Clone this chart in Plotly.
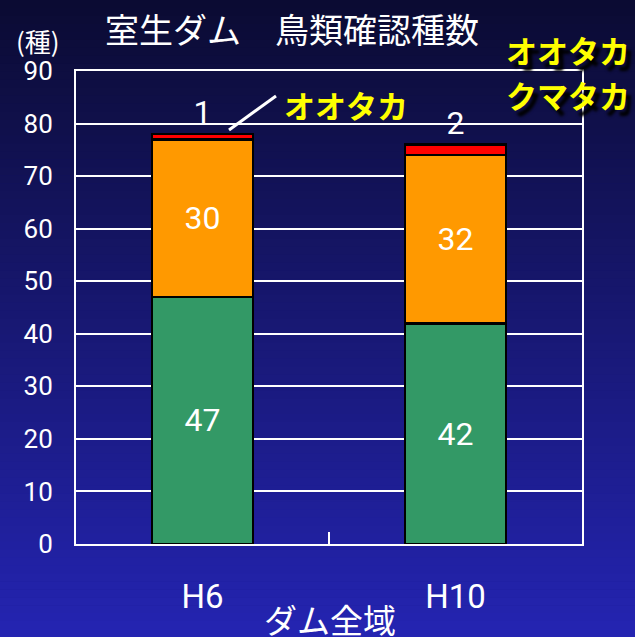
import plotly.graph_objects as go

categories = ["H6", "H10"]
green_vals = [47, 42]
orange_vals = [30, 32]
red_vals = [1, 2]
y_ticks = [0, 10, 20, 30, 40, 50, 60, 70, 80, 90]

W, H = 635, 637
L, R, T, B = 76, 53, 71, 93
pw, ph = W - L - R, H - T - B

NUM_FONT = "Roboto, Liberation Sans, sans-serif"
JP_FONT = "Noto Sans CJK JP, sans-serif"

def px2x(px):
    return (px - L) / pw

def px2y(py):
    return (H - B - py) / ph

fig = go.Figure()

fig.add_trace(go.Bar(
    x=categories, y=green_vals, name="green",
    marker=dict(color="#339966", line=dict(color="black", width=2.5)),
    text=[str(v) for v in green_vals], textposition="inside",
    insidetextanchor="middle",
    textfont=dict(color="white", size=32, family=NUM_FONT),
))
fig.add_trace(go.Bar(
    x=categories, y=orange_vals, name="orange",
    marker=dict(color="#FF9900", line=dict(color="black", width=2.5)),
    text=[str(v) for v in orange_vals], textposition="inside",
    insidetextanchor="middle",
    textfont=dict(color="white", size=32, family=NUM_FONT),
))
fig.add_trace(go.Bar(
    x=categories, y=red_vals, name="red",
    marker=dict(color="#FF0000", line=dict(color="black", width=2.5)),
    text=[str(v) for v in red_vals], textposition="outside",
    textfont=dict(color="white", size=32, family=NUM_FONT),
    cliponaxis=False,
))

# gradient background
shapes = []
n = 80
c0 = (11, 11, 50)
c1 = (36, 36, 178)
for i in range(n):
    y0 = i * H / n
    y1 = (i + 1) * H / n + 0.6
    t = (i + 0.5) / n
    c = tuple(int(round(a + (b - a) * t)) for a, b in zip(c0, c1))
    shapes.append(dict(
        type="rect", xref="paper", yref="paper", layer="below",
        x0=px2x(0), x1=px2x(W), y0=px2y(y1), y1=px2y(y0),
        fillcolor="rgb(%d,%d,%d)" % c, line=dict(width=0),
    ))
# leader line for annotation
shapes.append(dict(
    type="line", xref="paper", yref="paper",
    x0=px2x(229), y0=px2y(130), x1=px2x(276), y1=px2y(96),
    line=dict(color="white", width=3),
))

annotations = [
    dict(text="室生ダム　鳥類確認種数", x=px2x(292), y=px2y(28),
         font=dict(color="white", size=34, family=JP_FONT)),
    dict(text="(種)", x=px2x(38), y=px2y(41),
         font=dict(color="white", size=26, family=JP_FONT)),
    dict(text="<b>オオタカ</b>", x=px2x(346), y=px2y(104),
         font=dict(color="#FFFF00", size=31, family=JP_FONT)),
    dict(text="<b>オオタカ</b>", x=px2x(568), y=px2y(50),
         font=dict(color="#FFFF00", size=31, family=JP_FONT,
                   shadow="5px 6px 3px #000")),
    dict(text="<b>クマタカ</b>", x=px2x(568), y=px2y(94),
         font=dict(color="#FFFF00", size=31, family=JP_FONT,
                   shadow="5px 6px 3px #000")),
    dict(text="ダム全域", x=px2x(330), y=px2y(619),
         font=dict(color="white", size=33, family=JP_FONT)),
]
for a in annotations:
    a.update(xref="paper", yref="paper", showarrow=False,
             xanchor="center", yanchor="middle")

fig.update_layout(
    width=W, height=H,
    margin=dict(l=L, r=R, t=T, b=B, pad=0),
    barmode="stack", bargap=0.6,
    showlegend=False,
    paper_bgcolor="rgb(23,23,113)",
    plot_bgcolor="rgba(0,0,0,0)",
    shapes=shapes,
    annotations=annotations,
    uniformtext=dict(mode=False),
)
fig.update_xaxes(
    showline=True, linecolor="white", linewidth=2, mirror=True,
    ticks="inside", tickson="boundaries", ticklen=12, tickwidth=2,
    tickcolor="white", showgrid=False,
    tickfont=dict(color="white", size=33, family=NUM_FONT),
    ticklabelstandoff=22,
)
fig.update_yaxes(
    range=[0, 90], tickvals=y_ticks,
    showline=True, linecolor="white", linewidth=2, mirror=True,
    showgrid=True, gridcolor="white", gridwidth=2,
    zeroline=False, ticks="",
    tickfont=dict(color="white", size=26, family=NUM_FONT),
    ticklabelstandoff=16,
)

fig.write_html(
    "out.html",
    config={"displayModeBar": False},
    post_script="document.body.style.margin='0';document.body.style.overflow='hidden';",
)
